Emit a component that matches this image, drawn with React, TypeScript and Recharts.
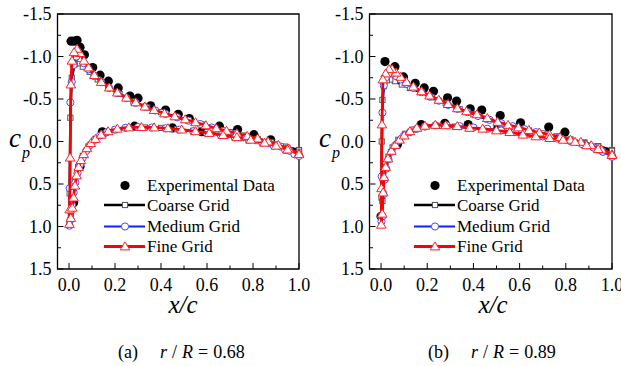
import React from "react";
import { ScatterChart, Scatter, XAxis, YAxis, ReferenceArea } from "recharts";

const FONT = "Liberation Serif, Times New Roman, Times, DejaVu Serif, serif";

// axis ticks (minor ticks carry no label)
const xTicks = [0, 0.1, 0.2, 0.3, 0.4, 0.5, 0.6, 0.7, 0.8, 0.9, 1.0];
const xLabels = [0, 0.2, 0.4, 0.6, 0.8, 1.0];
const yTicks = [-1.5, -1.25, -1.0, -0.75, -0.5, -0.25, 0, 0.25, 0.5, 0.75, 1.0, 1.25, 1.5];
const yLabels = [-1.5, -1.0, -0.5, 0, 0.5, 1.0, 1.5];

// (a) r/R = 0.68
const expA = [
  [0.009, -1.18], [0.022, -1.18], [0.035, -1.19], [0.048, -1.11], [0.067, -1.02], [0.103, -0.87],
  [0.135, -0.78], [0.171, -0.71], [0.214, -0.63], [0.265, -0.535], [0.3, -0.51], [0.355, -0.42],
  [0.42, -0.37], [0.475, -0.32], [0.523, -0.27], [0.654, -0.18], [0.733, -0.14], [0.804, -0.08],
  [0.877, -0.02],
  [0.02, 0.72], [0.048, 0.29], [0.145, -0.115], [0.285, -0.18], [0.45, -0.16], [0.577, -0.115],
];
const coarseA = [
  [1.0, 0.1], [0.94, 0.06], [0.88, 0.01], [0.82, -0.03], [0.76, -0.07], [0.7, -0.11], [0.64, -0.15],
  [0.58, -0.2], [0.52, -0.245], [0.46, -0.29], [0.4, -0.345], [0.34, -0.4], [0.28, -0.47], [0.22, -0.56],
  [0.17, -0.64], [0.125, -0.73], [0.09, -0.82], [0.06, -0.88], [0.04, -0.92], [0.025, -0.91],
  [0.012, -0.75], [0.006, -0.28], [0.003, 0.61], [0.002, 0.98],
  [0.008, 0.85], [0.016, 0.62], [0.026, 0.45], [0.04, 0.3], [0.06, 0.17], [0.085, 0.06], [0.115, -0.03],
  [0.15, -0.09], [0.2, -0.135], [0.26, -0.16], [0.33, -0.165], [0.4, -0.16], [0.47, -0.145],
  [0.54, -0.125], [0.61, -0.1], [0.68, -0.07], [0.75, -0.04], [0.82, -0.005], [0.89, 0.035],
  [0.95, 0.075], [1.0, 0.12],
];
const mediumA = [
  [1.0, 0.16], [0.96, 0.11], [0.92, 0.06], [0.87, 0.02], [0.82, -0.02], [0.77, -0.055], [0.72, -0.09],
  [0.67, -0.125], [0.62, -0.165], [0.57, -0.205], [0.52, -0.245], [0.47, -0.285], [0.42, -0.325],
  [0.375, -0.365], [0.33, -0.41], [0.29, -0.455], [0.25, -0.51], [0.21, -0.57], [0.175, -0.63],
  [0.14, -0.7], [0.11, -0.77], [0.085, -0.85], [0.065, -0.92], [0.048, -0.98], [0.032, -1.0],
  [0.02, -0.9], [0.012, -0.7], [0.006, -0.46], [0.003, 0.55], [0.002, 0.99],
  [0.007, 0.92], [0.013, 0.75], [0.02, 0.6], [0.028, 0.48], [0.037, 0.37], [0.048, 0.27], [0.06, 0.19],
  [0.075, 0.11], [0.092, 0.04], [0.112, -0.02], [0.135, -0.07], [0.165, -0.11], [0.2, -0.14],
  [0.245, -0.16], [0.3, -0.17], [0.36, -0.165], [0.42, -0.155], [0.48, -0.14], [0.54, -0.12],
  [0.6, -0.1], [0.66, -0.075], [0.72, -0.05], [0.78, -0.02], [0.84, 0.015], [0.89, 0.05], [0.94, 0.1],
  [0.98, 0.15], [1.0, 0.17],
];
const fineA = [
  [1.0, 0.14], [0.955, 0.085], [0.91, 0.04], [0.865, 0.0], [0.82, -0.035], [0.775, -0.065], [0.73, -0.095],
  [0.685, -0.125], [0.64, -0.155], [0.595, -0.19], [0.55, -0.225], [0.505, -0.26], [0.46, -0.295],
  [0.415, -0.33], [0.37, -0.37], [0.33, -0.41], [0.29, -0.46], [0.25, -0.515], [0.21, -0.575],
  [0.175, -0.635], [0.14, -0.7], [0.11, -0.78], [0.085, -0.87], [0.065, -0.95], [0.048, -1.04],
  [0.035, -1.09], [0.022, -1.05], [0.013, -0.95], [0.008, -0.67], [0.005, 0.19], [0.003, 0.8], [0.002, 0.97],
  [0.008, 0.9], [0.014, 0.78], [0.02, 0.66], [0.026, 0.52], [0.033, 0.4], [0.042, 0.3], [0.052, 0.22],
  [0.064, 0.15], [0.078, 0.08], [0.095, 0.02], [0.115, -0.03], [0.14, -0.08], [0.17, -0.12], [0.21, -0.15],
  [0.26, -0.165], [0.315, -0.17], [0.37, -0.165], [0.43, -0.155], [0.49, -0.14], [0.55, -0.12],
  [0.61, -0.1], [0.67, -0.075], [0.73, -0.05], [0.79, -0.02], [0.85, 0.015], [0.9, 0.05], [0.95, 0.095],
  [1.0, 0.15],
];

// (b) r/R = 0.89
const expB = [
  [0.017, -0.94], [0.06, -0.88], [0.097, -0.76], [0.148, -0.685], [0.187, -0.63], [0.227, -0.59],
  [0.288, -0.515], [0.327, -0.475], [0.386, -0.385], [0.436, -0.37], [0.516, -0.305], [0.604, -0.22],
  [0.726, -0.17], [0.796, -0.11],
  [0.0, 0.88], [0.071, 0.035], [0.174, -0.2], [0.276, -0.215], [0.377, -0.2], [0.506, -0.16],
];
const coarseB = [
  [1.0, 0.1], [0.94, 0.055], [0.88, 0.01], [0.82, -0.025], [0.76, -0.06], [0.7, -0.095], [0.64, -0.13],
  [0.58, -0.17], [0.52, -0.21], [0.46, -0.26], [0.4, -0.32], [0.34, -0.38], [0.28, -0.45], [0.22, -0.52],
  [0.17, -0.58], [0.125, -0.63], [0.09, -0.67], [0.06, -0.71], [0.04, -0.73], [0.025, -0.72],
  [0.012, -0.65], [0.006, -0.49], [0.003, 0.0], [0.002, 0.66], [0.001, 0.88],
  [0.006, 0.7], [0.012, 0.45], [0.02, 0.3], [0.032, 0.18], [0.05, 0.07], [0.075, -0.02], [0.105, -0.09],
  [0.14, -0.14], [0.19, -0.175], [0.25, -0.185], [0.32, -0.175], [0.39, -0.16], [0.46, -0.145],
  [0.53, -0.125], [0.6, -0.1], [0.67, -0.075], [0.74, -0.045], [0.81, -0.015], [0.88, 0.02],
  [0.94, 0.06], [1.0, 0.11],
];
const mediumB = [
  [1.0, 0.17], [0.96, 0.12], [0.92, 0.07], [0.87, 0.025], [0.82, -0.01], [0.77, -0.045], [0.72, -0.075],
  [0.67, -0.11], [0.62, -0.145], [0.57, -0.18], [0.52, -0.215], [0.47, -0.255], [0.42, -0.3],
  [0.375, -0.345], [0.33, -0.385], [0.29, -0.43], [0.25, -0.48], [0.21, -0.53], [0.175, -0.58],
  [0.14, -0.63], [0.11, -0.68], [0.085, -0.73], [0.065, -0.77], [0.048, -0.8], [0.032, -0.8],
  [0.02, -0.75], [0.012, -0.66], [0.006, -0.34], [0.003, 0.41], [0.002, 0.94],
  [0.006, 0.88], [0.01, 0.62], [0.015, 0.45], [0.022, 0.32], [0.032, 0.21], [0.045, 0.12], [0.06, 0.05],
  [0.078, -0.01], [0.1, -0.07], [0.125, -0.11], [0.155, -0.15], [0.19, -0.175], [0.235, -0.19],
  [0.285, -0.19], [0.34, -0.18], [0.4, -0.165], [0.46, -0.15], [0.52, -0.13], [0.58, -0.11],
  [0.64, -0.085], [0.7, -0.06], [0.76, -0.035], [0.82, -0.005], [0.87, 0.03], [0.92, 0.07], [0.96, 0.12],
  [1.0, 0.18],
];
const fineB = [
  [1.0, 0.15], [0.955, 0.095], [0.91, 0.045], [0.865, 0.005], [0.82, -0.02], [0.775, -0.05], [0.73, -0.08],
  [0.685, -0.105], [0.64, -0.135], [0.595, -0.165], [0.55, -0.195], [0.505, -0.23], [0.46, -0.275],
  [0.415, -0.32], [0.37, -0.355], [0.33, -0.39], [0.29, -0.44], [0.25, -0.49], [0.21, -0.54],
  [0.175, -0.59], [0.14, -0.645], [0.11, -0.7], [0.085, -0.76], [0.065, -0.81], [0.048, -0.85],
  [0.035, -0.85], [0.02, -0.8], [0.008, -0.73], [0.004, -0.2], [0.002, 0.55], [0.001, 0.98],
  [0.005, 0.85], [0.009, 0.6], [0.013, 0.42], [0.02, 0.3], [0.03, 0.2], [0.045, 0.11], [0.062, 0.04],
  [0.08, -0.02], [0.1, -0.07], [0.125, -0.12], [0.155, -0.16], [0.19, -0.185], [0.235, -0.195],
  [0.28, -0.19], [0.33, -0.18], [0.383, -0.16], [0.44, -0.15], [0.499, -0.13], [0.557, -0.11],
  [0.614, -0.08], [0.67, -0.06], [0.73, -0.04], [0.788, -0.02], [0.84, 0.005], [0.89, 0.045],
  [0.94, 0.09], [1.0, 0.16],
];

const pts = (a: number[][]) => a.map(([x, y]) => ({ x, y }));
const isLabel = (list: number[], v: number) => list.some((t) => Math.abs(t - v) < 1e-6);

const ExpDot = ({ cx, cy }: any) => <circle cx={cx} cy={cy} r={4.6} fill="#000" />;
const SquareMark = ({ cx, cy }: any) => (
  <rect x={cx - 2.6} y={cy - 2.6} width={5.2} height={5.2} fill="#fff" stroke="#555" strokeWidth={1} />
);
const CircleMark = ({ cx, cy }: any) => (
  <circle cx={cx} cy={cy} r={3.6} fill="#fff" stroke="#3f4cff" strokeWidth={1} />
);
const TriMark = ({ cx, cy }: any) => (
  <polygon
    points={`${cx},${cy - 4.6} ${cx + 4.8},${cy + 3.4} ${cx - 4.8},${cy + 3.4}`}
    fill="#fff"
    stroke="#ff2020"
    strokeWidth={1}
  />
);

const XTick = ({ x, y, payload }: any) => {
  const major = isLabel(xLabels, payload.value);
  return (
    <g>
      <line x1={x} x2={x} y1={y} y2={y - (major ? 6 : 3.5)} stroke="#000" />
      {major && (
        <text x={x} y={y + 22} textAnchor="middle" style={{ fontFamily: FONT, fontSize: 18 }} fill="#000">
          {payload.value.toFixed(1)}
        </text>
      )}
    </g>
  );
};

const YTick = ({ x, y, payload }: any) => {
  const major = isLabel(yLabels, payload.value);
  return (
    <g>
      <line x1={x} x2={x + (major ? 6 : 3.5)} y1={y} y2={y} stroke="#000" />
      {major && (
        <text x={x - 6} y={y + 6} textAnchor="end" style={{ fontFamily: FONT, fontSize: 18 }} fill="#000">
          {payload.value.toFixed(1)}
        </text>
      )}
    </g>
  );
};

function CpPanel({ exp, coarse, medium, fine, width, yWidth, right }: any) {
  return (
    <ScatterChart width={width} height={300} margin={{ top: 14, right, bottom: 0, left: 0 }}>
      <XAxis
        type="number"
        dataKey="x"
        domain={[-0.05, 1]}
        ticks={xTicks}
        interval={0}
        tick={XTick}
        tickSize={0}
        tickMargin={0}
        axisLine={false}
        tickLine={false}
        height={31}
      />
      <YAxis
        type="number"
        dataKey="y"
        domain={[-1.5, 1.5]}
        reversed
        ticks={yTicks}
        interval={0}
        tick={YTick}
        tickSize={0}
        tickMargin={0}
        axisLine={false}
        tickLine={false}
        width={yWidth}
      />
      <Scatter data={pts(exp)} shape={ExpDot} isAnimationActive={false} />
      <Scatter data={pts(coarse)} shape={SquareMark} line={{ stroke: "#000", strokeWidth: 2.5 }} lineType="joint" isAnimationActive={false} />
      <Scatter data={pts(medium)} shape={CircleMark} line={{ stroke: "#1020ff", strokeWidth: 2 }} lineType="joint" isAnimationActive={false} />
      <Scatter data={pts(fine)} shape={TriMark} line={{ stroke: "#ff0000", strokeWidth: 2.8 }} lineType="joint" isAnimationActive={false} />
      <ReferenceArea x1={-0.05} x2={1} y1={-1.5} y2={1.5} fill="none" stroke="#000" strokeWidth={1.3} />
    </ScatterChart>
  );
}

function Legend({ dx }: { dx: number }) {
  const rows = [
    { label: "Coarse Grid", color: "#000", w: 2.5, y: 205, Mark: SquareMark },
    { label: "Medium Grid", color: "#1020ff", w: 2, y: 226.5, Mark: CircleMark },
    { label: "Fine Grid", color: "#ff0000", w: 2.8, y: 246.5, Mark: TriMark },
  ];
  return (
    <g style={{ fontFamily: FONT, fontSize: 17 }} fill="#000">
      <ExpDot cx={dx + 125} cy={185.5} />
      <text x={dx + 147} y={191}>Experimental Data</text>
      {rows.map((r) => (
        <g key={r.label}>
          <line x1={dx + 104} x2={dx + 145} y1={r.y} y2={r.y} stroke={r.color} strokeWidth={r.w} />
          <r.Mark cx={dx + 125} cy={r.y} />
          <text x={dx + 147} y={r.y + 5.5}>{r.label}</text>
        </g>
      ))}
    </g>
  );
}

function Titles({ dx, tag, ratio }: { dx: number; tag: string; ratio: string }) {
  return (
    <g style={{ fontFamily: FONT }} fill="#000">
      <text x={dx + 9} y={147} style={{ fontSize: 27, fontStyle: "italic" }}>c</text>
      <text x={dx + 22} y={158} style={{ fontSize: 16, fontStyle: "italic" }}>p</text>
      <text x={dx + 183} y={313} textAnchor="middle" style={{ fontSize: 25, fontStyle: "italic" }}>x/c</text>
      <text x={dx + 118} y={358} style={{ fontSize: 18 }}>
        <tspan>({tag})</tspan>
        <tspan dx={22} style={{ fontStyle: "italic" }}>r</tspan>
        <tspan dx={5}>/</tspan>
        <tspan dx={5} style={{ fontStyle: "italic" }}>R</tspan>
        <tspan dx={5}>=</tspan>
        <tspan dx={5}>{ratio}</tspan>
      </text>
    </g>
  );
}

export default function App() {
  return (
    <div style={{ position: "absolute", left: 0, top: 0, width: 621, height: 366, background: "#fff", overflow: "hidden" }}>
      <div style={{ position: "absolute", left: 0, top: 0 }}>
        <CpPanel exp={expA} coarse={coarseA} medium={mediumA} fine={fineA} width={315} yWidth={57.5} right={16} />
      </div>
      <div style={{ position: "absolute", left: 310, top: 0 }}>
        <CpPanel exp={expB} coarse={coarseB} medium={mediumB} fine={fineB} width={311} yWidth={59.5} right={9} />
      </div>
      <svg width={621} height={366} style={{ position: "absolute", left: 0, top: 0, pointerEvents: "none" }}>
        <Legend dx={0} />
        <Legend dx={310} />
        <Titles dx={0} tag="a" ratio="0.68" />
        <Titles dx={310} tag="b" ratio="0.89" />
      </svg>
    </div>
  );
}
